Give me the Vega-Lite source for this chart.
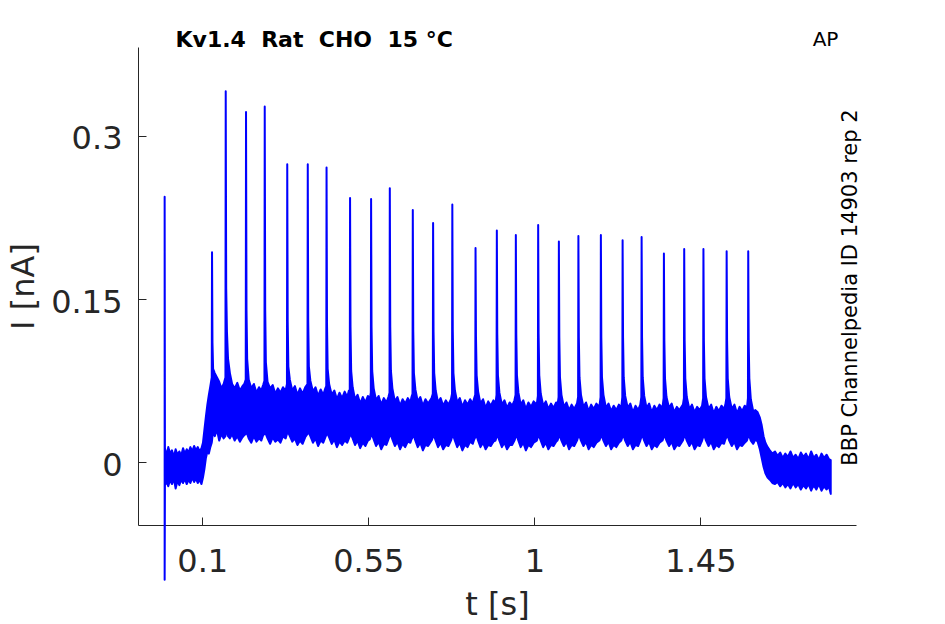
{
  "$schema": "https://vega.github.io/schema/vega-lite/v6.json",
  "width": 718,
  "height": 478,
  "autosize": {"type": "none"},
  "padding": {"left": 138, "top": 47, "right": 89, "bottom": 99},
  "background": "white",
  "config": {"view": {"stroke": null}, "font": "DejaVu Sans"},
  "title": {
    "text": "Kv1.4\u00a0\u00a0Rat\u00a0\u00a0CHO\u00a0\u00a015 °C",
    "anchor": "start",
    "frame": "group",
    "dx": 37.5,
    "dy": 39.5,
    "offset": 0,
    "baseline": "alphabetic",
    "fontSize": 22,
    "fontWeight": "bold",
    "font": "DejaVu Sans",
    "color": "#000000"
  },
  "resolve": {"axis": {"x": "independent", "y": "independent"}},
  "layer": [
    {
      "data": {"values": [
        {"t":-0.0018,"hi":0.244,"lo":-0.108},
        {"t":-0.0010,"hi":0.013,"lo":-0.021},
        {"t":0.004,"hi":0.006,"lo":-0.018},
        {"t":0.008,"hi":0.014,"lo":-0.022},
        {"t":0.013,"hi":0.008,"lo":-0.016},
        {"t":0.018,"hi":0.011,"lo":-0.020},
        {"t":0.023,"hi":0.005,"lo":-0.015},
        {"t":0.028,"hi":0.012,"lo":-0.024},
        {"t":0.033,"hi":0.007,"lo":-0.017},
        {"t":0.038,"hi":0.010,"lo":-0.021},
        {"t":0.043,"hi":0.006,"lo":-0.016},
        {"t":0.048,"hi":0.013,"lo":-0.019},
        {"t":0.053,"hi":0.008,"lo":-0.015},
        {"t":0.058,"hi":0.012,"lo":-0.020},
        {"t":0.063,"hi":0.009,"lo":-0.016},
        {"t":0.068,"hi":0.014,"lo":-0.019},
        {"t":0.073,"hi":0.010,"lo":-0.014},
        {"t":0.078,"hi":0.015,"lo":-0.018},
        {"t":0.083,"hi":0.011,"lo":-0.015},
        {"t":0.088,"hi":0.014,"lo":-0.019},
        {"t":0.093,"hi":0.010,"lo":-0.016},
        {"t":0.098,"hi":0.013,"lo":-0.020},
        {"t":0.102,"hi":0.018,"lo":-0.014},
        {"t":0.106,"hi":0.030,"lo":-0.006},
        {"t":0.110,"hi":0.042,"lo":0.004},
        {"t":0.114,"hi":0.053,"lo":0.010},
        {"t":0.118,"hi":0.062,"lo":0.008},
        {"t":0.122,"hi":0.070,"lo":0.014},
        {"t":0.1258,"hi":0.078,"lo":0.018},
        {"t":0.1266,"hi":0.193,"lo":0.020},
        {"t":0.1278,"hi":0.110,"lo":0.024},
        {"t":0.1295,"hi":0.086,"lo":0.028},
        {"t":0.134,"hi":0.082,"lo":0.024},
        {"t":0.140,"hi":0.078,"lo":0.030},
        {"t":0.146,"hi":0.074,"lo":0.020},
        {"t":0.152,"hi":0.068,"lo":0.026},
        {"t":0.158,"hi":0.072,"lo":0.022},
        {"t":0.1629,"hi":0.078,"lo":0.024},
        {"t":0.1637,"hi":0.341,"lo":0.028},
        {"t":0.1650,"hi":0.160,"lo":0.030},
        {"t":0.1670,"hi":0.120,"lo":0.028},
        {"t":0.170,"hi":0.095,"lo":0.024},
        {"t":0.175,"hi":0.082,"lo":0.022},
        {"t":0.181,"hi":0.072,"lo":0.026},
        {"t":0.188,"hi":0.068,"lo":0.020},
        {"t":0.195,"hi":0.073,"lo":0.024},
        {"t":0.202,"hi":0.066,"lo":0.019},
        {"t":0.209,"hi":0.070,"lo":0.023},
        {"t":0.214,"hi":0.072,"lo":0.025},
        {"t":0.2179,"hi":0.076,"lo":0.026},
        {"t":0.2187,"hi":0.322,"lo":0.028},
        {"t":0.2200,"hi":0.140,"lo":0.030},
        {"t":0.2218,"hi":0.095,"lo":0.026},
        {"t":0.226,"hi":0.076,"lo":0.022},
        {"t":0.233,"hi":0.068,"lo":0.018},
        {"t":0.240,"hi":0.072,"lo":0.024},
        {"t":0.247,"hi":0.064,"lo":0.019},
        {"t":0.254,"hi":0.069,"lo":0.022},
        {"t":0.260,"hi":0.066,"lo":0.020},
        {"t":0.265,"hi":0.071,"lo":0.025},
        {"t":0.2686,"hi":0.075,"lo":0.026},
        {"t":0.2694,"hi":0.327,"lo":0.028},
        {"t":0.2707,"hi":0.140,"lo":0.030},
        {"t":0.2725,"hi":0.092,"lo":0.026},
        {"t":0.277,"hi":0.074,"lo":0.022},
        {"t":0.284,"hi":0.068,"lo":0.017},
        {"t":0.291,"hi":0.071,"lo":0.023},
        {"t":0.298,"hi":0.063,"lo":0.019},
        {"t":0.305,"hi":0.068,"lo":0.021},
        {"t":0.312,"hi":0.064,"lo":0.018},
        {"t":0.319,"hi":0.069,"lo":0.024},
        {"t":0.326,"hi":0.066,"lo":0.022},
        {"t":0.3296,"hi":0.072,"lo":0.026},
        {"t":0.3304,"hi":0.274,"lo":0.028},
        {"t":0.3316,"hi":0.130,"lo":0.029},
        {"t":0.3334,"hi":0.088,"lo":0.027},
        {"t":0.3374,"hi":0.076,"lo":0.024},
        {"t":0.344,"hi":0.066,"lo":0.019},
        {"t":0.351,"hi":0.070,"lo":0.022},
        {"t":0.358,"hi":0.062,"lo":0.016},
        {"t":0.365,"hi":0.068,"lo":0.020},
        {"t":0.372,"hi":0.063,"lo":0.017},
        {"t":0.379,"hi":0.069,"lo":0.023},
        {"t":0.3852,"hi":0.072,"lo":0.026},
        {"t":0.3860,"hi":0.274,"lo":0.028},
        {"t":0.3872,"hi":0.130,"lo":0.029},
        {"t":0.3890,"hi":0.088,"lo":0.027},
        {"t":0.3930,"hi":0.075,"lo":0.024},
        {"t":0.400,"hi":0.065,"lo":0.018},
        {"t":0.407,"hi":0.069,"lo":0.022},
        {"t":0.414,"hi":0.061,"lo":0.015},
        {"t":0.421,"hi":0.067,"lo":0.020},
        {"t":0.428,"hi":0.062,"lo":0.018},
        {"t":0.4335,"hi":0.068,"lo":0.023},
        {"t":0.4361,"hi":0.070,"lo":0.025},
        {"t":0.4369,"hi":0.271,"lo":0.027},
        {"t":0.4381,"hi":0.128,"lo":0.028},
        {"t":0.4399,"hi":0.086,"lo":0.026},
        {"t":0.4439,"hi":0.072,"lo":0.023},
        {"t":0.451,"hi":0.062,"lo":0.017},
        {"t":0.458,"hi":0.066,"lo":0.021},
        {"t":0.465,"hi":0.058,"lo":0.014},
        {"t":0.472,"hi":0.064,"lo":0.019},
        {"t":0.479,"hi":0.059,"lo":0.016},
        {"t":0.486,"hi":0.065,"lo":0.020},
        {"t":0.493,"hi":0.060,"lo":0.018},
        {"t":0.4975,"hi":0.066,"lo":0.022},
        {"t":0.4998,"hi":0.066,"lo":0.024},
        {"t":0.5006,"hi":0.243,"lo":0.026},
        {"t":0.5018,"hi":0.125,"lo":0.027},
        {"t":0.5036,"hi":0.084,"lo":0.025},
        {"t":0.5076,"hi":0.069,"lo":0.022},
        {"t":0.514,"hi":0.058,"lo":0.016},
        {"t":0.521,"hi":0.062,"lo":0.020},
        {"t":0.528,"hi":0.054,"lo":0.013},
        {"t":0.535,"hi":0.060,"lo":0.018},
        {"t":0.542,"hi":0.055,"lo":0.015},
        {"t":0.549,"hi":0.061,"lo":0.020},
        {"t":0.554,"hi":0.058,"lo":0.021},
        {"t":0.5568,"hi":0.064,"lo":0.024},
        {"t":0.5576,"hi":0.242,"lo":0.026},
        {"t":0.5588,"hi":0.125,"lo":0.027},
        {"t":0.5606,"hi":0.084,"lo":0.025},
        {"t":0.5646,"hi":0.068,"lo":0.021},
        {"t":0.571,"hi":0.057,"lo":0.015},
        {"t":0.578,"hi":0.061,"lo":0.019},
        {"t":0.585,"hi":0.053,"lo":0.012},
        {"t":0.592,"hi":0.059,"lo":0.017},
        {"t":0.599,"hi":0.055,"lo":0.016},
        {"t":0.6045,"hi":0.060,"lo":0.021},
        {"t":0.6075,"hi":0.064,"lo":0.024},
        {"t":0.6083,"hi":0.252,"lo":0.026},
        {"t":0.6095,"hi":0.125,"lo":0.027},
        {"t":0.6113,"hi":0.084,"lo":0.025},
        {"t":0.6153,"hi":0.068,"lo":0.021},
        {"t":0.622,"hi":0.056,"lo":0.015},
        {"t":0.629,"hi":0.060,"lo":0.019},
        {"t":0.636,"hi":0.052,"lo":0.012},
        {"t":0.643,"hi":0.058,"lo":0.017},
        {"t":0.650,"hi":0.054,"lo":0.014},
        {"t":0.657,"hi":0.059,"lo":0.019},
        {"t":0.664,"hi":0.055,"lo":0.018},
        {"t":0.667,"hi":0.060,"lo":0.021},
        {"t":0.6698,"hi":0.063,"lo":0.023},
        {"t":0.6706,"hi":0.232,"lo":0.025},
        {"t":0.6718,"hi":0.122,"lo":0.026},
        {"t":0.6736,"hi":0.082,"lo":0.024},
        {"t":0.6776,"hi":0.067,"lo":0.020},
        {"t":0.684,"hi":0.056,"lo":0.014},
        {"t":0.691,"hi":0.060,"lo":0.018},
        {"t":0.698,"hi":0.052,"lo":0.011},
        {"t":0.705,"hi":0.058,"lo":0.016},
        {"t":0.712,"hi":0.054,"lo":0.015},
        {"t":0.7215,"hi":0.059,"lo":0.020},
        {"t":0.7248,"hi":0.063,"lo":0.023},
        {"t":0.7256,"hi":0.220,"lo":0.025},
        {"t":0.7268,"hi":0.120,"lo":0.026},
        {"t":0.7286,"hi":0.082,"lo":0.024},
        {"t":0.7326,"hi":0.066,"lo":0.020},
        {"t":0.739,"hi":0.055,"lo":0.014},
        {"t":0.746,"hi":0.059,"lo":0.018},
        {"t":0.753,"hi":0.052,"lo":0.012},
        {"t":0.760,"hi":0.057,"lo":0.016},
        {"t":0.767,"hi":0.053,"lo":0.015},
        {"t":0.774,"hi":0.058,"lo":0.020},
        {"t":0.7769,"hi":0.063,"lo":0.023},
        {"t":0.7777,"hi":0.237,"lo":0.025},
        {"t":0.7789,"hi":0.122,"lo":0.026},
        {"t":0.7807,"hi":0.082,"lo":0.024},
        {"t":0.7847,"hi":0.066,"lo":0.020},
        {"t":0.791,"hi":0.055,"lo":0.014},
        {"t":0.798,"hi":0.059,"lo":0.018},
        {"t":0.805,"hi":0.051,"lo":0.011},
        {"t":0.812,"hi":0.057,"lo":0.016},
        {"t":0.819,"hi":0.053,"lo":0.014},
        {"t":0.826,"hi":0.058,"lo":0.019},
        {"t":0.833,"hi":0.054,"lo":0.017},
        {"t":0.837,"hi":0.059,"lo":0.021},
        {"t":0.8398,"hi":0.062,"lo":0.023},
        {"t":0.8406,"hi":0.197,"lo":0.025},
        {"t":0.8418,"hi":0.115,"lo":0.026},
        {"t":0.8436,"hi":0.080,"lo":0.024},
        {"t":0.8476,"hi":0.065,"lo":0.020},
        {"t":0.854,"hi":0.054,"lo":0.014},
        {"t":0.861,"hi":0.058,"lo":0.018},
        {"t":0.868,"hi":0.050,"lo":0.012},
        {"t":0.875,"hi":0.056,"lo":0.016},
        {"t":0.882,"hi":0.052,"lo":0.015},
        {"t":0.889,"hi":0.057,"lo":0.019},
        {"t":0.8945,"hi":0.054,"lo":0.020},
        {"t":0.8975,"hi":0.062,"lo":0.023},
        {"t":0.8983,"hi":0.213,"lo":0.025},
        {"t":0.8995,"hi":0.118,"lo":0.026},
        {"t":0.9013,"hi":0.080,"lo":0.024},
        {"t":0.9053,"hi":0.064,"lo":0.020},
        {"t":0.912,"hi":0.053,"lo":0.014},
        {"t":0.919,"hi":0.057,"lo":0.018},
        {"t":0.926,"hi":0.050,"lo":0.012},
        {"t":0.933,"hi":0.055,"lo":0.016},
        {"t":0.940,"hi":0.052,"lo":0.016},
        {"t":0.946,"hi":0.057,"lo":0.020},
        {"t":0.9490,"hi":0.062,"lo":0.023},
        {"t":0.9498,"hi":0.209,"lo":0.025},
        {"t":0.9510,"hi":0.118,"lo":0.026},
        {"t":0.9528,"hi":0.080,"lo":0.024},
        {"t":0.9568,"hi":0.064,"lo":0.020},
        {"t":0.963,"hi":0.053,"lo":0.014},
        {"t":0.970,"hi":0.057,"lo":0.018},
        {"t":0.977,"hi":0.049,"lo":0.011},
        {"t":0.984,"hi":0.055,"lo":0.016},
        {"t":0.991,"hi":0.051,"lo":0.014},
        {"t":0.998,"hi":0.056,"lo":0.018},
        {"t":1.0065,"hi":0.053,"lo":0.020},
        {"t":1.0095,"hi":0.061,"lo":0.023},
        {"t":1.0103,"hi":0.218,"lo":0.025},
        {"t":1.0115,"hi":0.118,"lo":0.026},
        {"t":1.0133,"hi":0.080,"lo":0.024},
        {"t":1.0173,"hi":0.063,"lo":0.020},
        {"t":1.024,"hi":0.052,"lo":0.014},
        {"t":1.031,"hi":0.056,"lo":0.018},
        {"t":1.038,"hi":0.049,"lo":0.012},
        {"t":1.045,"hi":0.054,"lo":0.016},
        {"t":1.052,"hi":0.050,"lo":0.015},
        {"t":1.059,"hi":0.055,"lo":0.019},
        {"t":1.0625,"hi":0.052,"lo":0.020},
        {"t":1.0656,"hi":0.060,"lo":0.023},
        {"t":1.0664,"hi":0.203,"lo":0.025},
        {"t":1.0676,"hi":0.115,"lo":0.026},
        {"t":1.0694,"hi":0.078,"lo":0.024},
        {"t":1.0734,"hi":0.062,"lo":0.020},
        {"t":1.080,"hi":0.051,"lo":0.015},
        {"t":1.087,"hi":0.055,"lo":0.019},
        {"t":1.094,"hi":0.048,"lo":0.012},
        {"t":1.101,"hi":0.053,"lo":0.016},
        {"t":1.108,"hi":0.049,"lo":0.015},
        {"t":1.1155,"hi":0.054,"lo":0.020},
        {"t":1.1185,"hi":0.060,"lo":0.023},
        {"t":1.1193,"hi":0.208,"lo":0.025},
        {"t":1.1205,"hi":0.115,"lo":0.026},
        {"t":1.1223,"hi":0.078,"lo":0.024},
        {"t":1.1263,"hi":0.062,"lo":0.020},
        {"t":1.133,"hi":0.051,"lo":0.015},
        {"t":1.140,"hi":0.055,"lo":0.019},
        {"t":1.147,"hi":0.047,"lo":0.012},
        {"t":1.154,"hi":0.053,"lo":0.016},
        {"t":1.161,"hi":0.049,"lo":0.014},
        {"t":1.168,"hi":0.054,"lo":0.018},
        {"t":1.176,"hi":0.051,"lo":0.020},
        {"t":1.1794,"hi":0.060,"lo":0.023},
        {"t":1.1802,"hi":0.209,"lo":0.025},
        {"t":1.1814,"hi":0.115,"lo":0.026},
        {"t":1.1832,"hi":0.078,"lo":0.024},
        {"t":1.1872,"hi":0.062,"lo":0.020},
        {"t":1.194,"hi":0.050,"lo":0.015},
        {"t":1.201,"hi":0.054,"lo":0.019},
        {"t":1.208,"hi":0.047,"lo":0.012},
        {"t":1.215,"hi":0.052,"lo":0.016},
        {"t":1.222,"hi":0.048,"lo":0.014},
        {"t":1.229,"hi":0.053,"lo":0.018},
        {"t":1.2355,"hi":0.050,"lo":0.020},
        {"t":1.2383,"hi":0.060,"lo":0.023},
        {"t":1.2391,"hi":0.204,"lo":0.025},
        {"t":1.2403,"hi":0.115,"lo":0.026},
        {"t":1.2421,"hi":0.078,"lo":0.024},
        {"t":1.2461,"hi":0.061,"lo":0.020},
        {"t":1.253,"hi":0.050,"lo":0.015},
        {"t":1.260,"hi":0.054,"lo":0.019},
        {"t":1.267,"hi":0.046,"lo":0.012},
        {"t":1.274,"hi":0.052,"lo":0.016},
        {"t":1.281,"hi":0.048,"lo":0.015},
        {"t":1.287,"hi":0.053,"lo":0.020},
        {"t":1.2898,"hi":0.060,"lo":0.023},
        {"t":1.2906,"hi":0.207,"lo":0.025},
        {"t":1.2918,"hi":0.115,"lo":0.026},
        {"t":1.2936,"hi":0.078,"lo":0.024},
        {"t":1.2976,"hi":0.061,"lo":0.020},
        {"t":1.304,"hi":0.050,"lo":0.015},
        {"t":1.311,"hi":0.054,"lo":0.019},
        {"t":1.318,"hi":0.046,"lo":0.012},
        {"t":1.325,"hi":0.052,"lo":0.016},
        {"t":1.332,"hi":0.048,"lo":0.014},
        {"t":1.339,"hi":0.053,"lo":0.018},
        {"t":1.347,"hi":0.050,"lo":0.020},
        {"t":1.3502,"hi":0.059,"lo":0.023},
        {"t":1.3510,"hi":0.192,"lo":0.025},
        {"t":1.3522,"hi":0.112,"lo":0.026},
        {"t":1.3540,"hi":0.077,"lo":0.024},
        {"t":1.3580,"hi":0.060,"lo":0.020},
        {"t":1.365,"hi":0.050,"lo":0.015},
        {"t":1.372,"hi":0.054,"lo":0.019},
        {"t":1.379,"hi":0.046,"lo":0.012},
        {"t":1.386,"hi":0.051,"lo":0.016},
        {"t":1.393,"hi":0.048,"lo":0.015},
        {"t":1.4025,"hi":0.053,"lo":0.020},
        {"t":1.4052,"hi":0.059,"lo":0.023},
        {"t":1.4060,"hi":0.196,"lo":0.025},
        {"t":1.4072,"hi":0.112,"lo":0.026},
        {"t":1.4090,"hi":0.077,"lo":0.024},
        {"t":1.4130,"hi":0.060,"lo":0.020},
        {"t":1.420,"hi":0.049,"lo":0.015},
        {"t":1.427,"hi":0.053,"lo":0.019},
        {"t":1.434,"hi":0.046,"lo":0.012},
        {"t":1.441,"hi":0.051,"lo":0.016},
        {"t":1.448,"hi":0.048,"lo":0.015},
        {"t":1.4545,"hi":0.052,"lo":0.020},
        {"t":1.4573,"hi":0.059,"lo":0.023},
        {"t":1.4581,"hi":0.196,"lo":0.025},
        {"t":1.4593,"hi":0.112,"lo":0.026},
        {"t":1.4611,"hi":0.077,"lo":0.024},
        {"t":1.4651,"hi":0.060,"lo":0.020},
        {"t":1.472,"hi":0.049,"lo":0.015},
        {"t":1.479,"hi":0.053,"lo":0.019},
        {"t":1.486,"hi":0.045,"lo":0.012},
        {"t":1.493,"hi":0.051,"lo":0.016},
        {"t":1.500,"hi":0.047,"lo":0.014},
        {"t":1.507,"hi":0.052,"lo":0.018},
        {"t":1.514,"hi":0.049,"lo":0.017},
        {"t":1.5175,"hi":0.053,"lo":0.021},
        {"t":1.5202,"hi":0.059,"lo":0.023},
        {"t":1.5210,"hi":0.194,"lo":0.025},
        {"t":1.5222,"hi":0.112,"lo":0.026},
        {"t":1.5240,"hi":0.077,"lo":0.024},
        {"t":1.5280,"hi":0.060,"lo":0.020},
        {"t":1.535,"hi":0.049,"lo":0.015},
        {"t":1.542,"hi":0.053,"lo":0.019},
        {"t":1.549,"hi":0.045,"lo":0.012},
        {"t":1.556,"hi":0.051,"lo":0.016},
        {"t":1.563,"hi":0.047,"lo":0.015},
        {"t":1.570,"hi":0.052,"lo":0.018},
        {"t":1.576,"hi":0.050,"lo":0.020},
        {"t":1.5787,"hi":0.059,"lo":0.023},
        {"t":1.5795,"hi":0.194,"lo":0.025},
        {"t":1.5807,"hi":0.112,"lo":0.026},
        {"t":1.5825,"hi":0.077,"lo":0.024},
        {"t":1.5865,"hi":0.058,"lo":0.020},
        {"t":1.593,"hi":0.047,"lo":0.017},
        {"t":1.599,"hi":0.048,"lo":0.021},
        {"t":1.605,"hi":0.046,"lo":0.019},
        {"t":1.611,"hi":0.041,"lo":0.012},
        {"t":1.616,"hi":0.034,"lo":0.004},
        {"t":1.621,"hi":0.024,"lo":-0.004},
        {"t":1.626,"hi":0.018,"lo":-0.010},
        {"t":1.632,"hi":0.014,"lo":-0.014},
        {"t":1.638,"hi":0.011,"lo":-0.016},
        {"t":1.645,"hi":0.008,"lo":-0.019},
        {"t":1.652,"hi":0.010,"lo":-0.020},
        {"t":1.659,"hi":0.006,"lo":-0.018},
        {"t":1.666,"hi":0.009,"lo":-0.022},
        {"t":1.673,"hi":0.004,"lo":-0.019},
        {"t":1.680,"hi":0.008,"lo":-0.023},
        {"t":1.687,"hi":0.005,"lo":-0.020},
        {"t":1.694,"hi":0.010,"lo":-0.024},
        {"t":1.701,"hi":0.004,"lo":-0.019},
        {"t":1.708,"hi":0.007,"lo":-0.023},
        {"t":1.715,"hi":0.003,"lo":-0.020},
        {"t":1.722,"hi":0.009,"lo":-0.025},
        {"t":1.729,"hi":0.005,"lo":-0.021},
        {"t":1.736,"hi":0.008,"lo":-0.024},
        {"t":1.743,"hi":0.003,"lo":-0.020},
        {"t":1.750,"hi":0.010,"lo":-0.026},
        {"t":1.757,"hi":0.004,"lo":-0.021},
        {"t":1.764,"hi":0.007,"lo":-0.025},
        {"t":1.771,"hi":0.002,"lo":-0.020},
        {"t":1.778,"hi":0.008,"lo":-0.026},
        {"t":1.785,"hi":0.004,"lo":-0.022},
        {"t":1.792,"hi":0.007,"lo":-0.025},
        {"t":1.798,"hi":0.003,"lo":-0.022},
        {"t":1.803,"hi":0.002,"lo":-0.029}
      ]},
      "mark": {
        "type": "area",
        "orient": "vertical",
        "color": "#0000ff",
        "stroke": "#0000ff",
        "strokeWidth": 2,
        "strokeJoin": "round",
        "opacity": 1
      },
      "encoding": {
        "x": {
          "field": "t",
          "type": "quantitative",
          "sort": null,
          "scale": {"domain": [-0.074, 1.8715], "nice": false, "zero": false},
          "axis": {
            "orient": "bottom",
            "values": [0.1, 0.55, 1, 1.45],
            "labelExpr": "'' + datum.value",
            "title": "t [s]",
            "titleFontSize": 32,
            "titleFontWeight": "normal",
            "titleFont": "DejaVu Sans",
            "titleColor": "#262626",
            "titleX": 359,
            "titleY": 89,
            "titleAlign": "center",
            "titleBaseline": "alphabetic",
            "labelFontSize": 32,
            "labelFont": "DejaVu Sans",
            "labelColor": "#262626",
            "labelPadding": 29,
            "labelBaseline": "top",
            "labelFlush": false,
            "labelOverlap": false,
            "tickSize": -8,
            "tickColor": "#262626",
            "tickWidth": 1,
            "domainColor": "#262626",
            "domainWidth": 1,
            "grid": false
          }
        },
        "y": {
          "field": "hi",
          "type": "quantitative",
          "scale": {"domain": [-0.0576, 0.3817], "nice": false, "zero": false},
          "axis": {
            "orient": "left",
            "values": [0, 0.15, 0.3],
            "labelExpr": "'' + datum.value",
            "title": "I [nA]",
            "titleFontSize": 32,
            "titleFontWeight": "normal",
            "titleFont": "DejaVu Sans",
            "titleColor": "#262626",
            "titleAngle": 270,
            "titleX": -105,
            "titleY": 239,
            "titleAlign": "center",
            "titleBaseline": "alphabetic",
            "labelFontSize": 32,
            "labelFont": "DejaVu Sans",
            "labelColor": "#262626",
            "labelPadding": 24,
            "labelOffset": 3,
            "labelFlush": false,
            "labelOverlap": false,
            "tickSize": -8,
            "tickColor": "#262626",
            "tickWidth": 1,
            "domainColor": "#262626",
            "domainWidth": 1,
            "grid": false
          }
        },
        "y2": {"field": "lo"}
      }
    },
    {
      "data": {"values": [{"t": 0, "v": 0}]},
      "mark": {"type": "point", "opacity": 0},
      "encoding": {
        "x": {
          "field": "t",
          "type": "quantitative",
          "scale": {"domain": [-0.074, 1.8715], "nice": false, "zero": false},
          "axis": {
            "orient": "top",
            "labels": false,
            "ticks": false,
            "domain": false,
            "grid": false,
            "title": "AP",
            "titleFontSize": 20,
            "titleFontWeight": "normal",
            "titleFont": "DejaVu Sans",
            "titleColor": "#000000",
            "titleX": 687,
            "titleY": -1.5,
            "titleAlign": "center",
            "titleBaseline": "alphabetic"
          }
        },
        "y": {
          "field": "v",
          "type": "quantitative",
          "scale": {"domain": [-0.0576, 0.3817], "nice": false, "zero": false},
          "axis": {
            "orient": "right",
            "labels": false,
            "ticks": false,
            "domain": false,
            "grid": false,
            "title": "BBP Channelpedia ID 14903 rep 2",
            "titleFontSize": 21,
            "titleFontWeight": "normal",
            "titleFont": "DejaVu Sans",
            "titleColor": "#000000",
            "titleAngle": 270,
            "titleX": 0,
            "titleY": 240,
            "titleAlign": "center",
            "titleBaseline": "alphabetic"
          }
        }
      }
    }
  ]
}
